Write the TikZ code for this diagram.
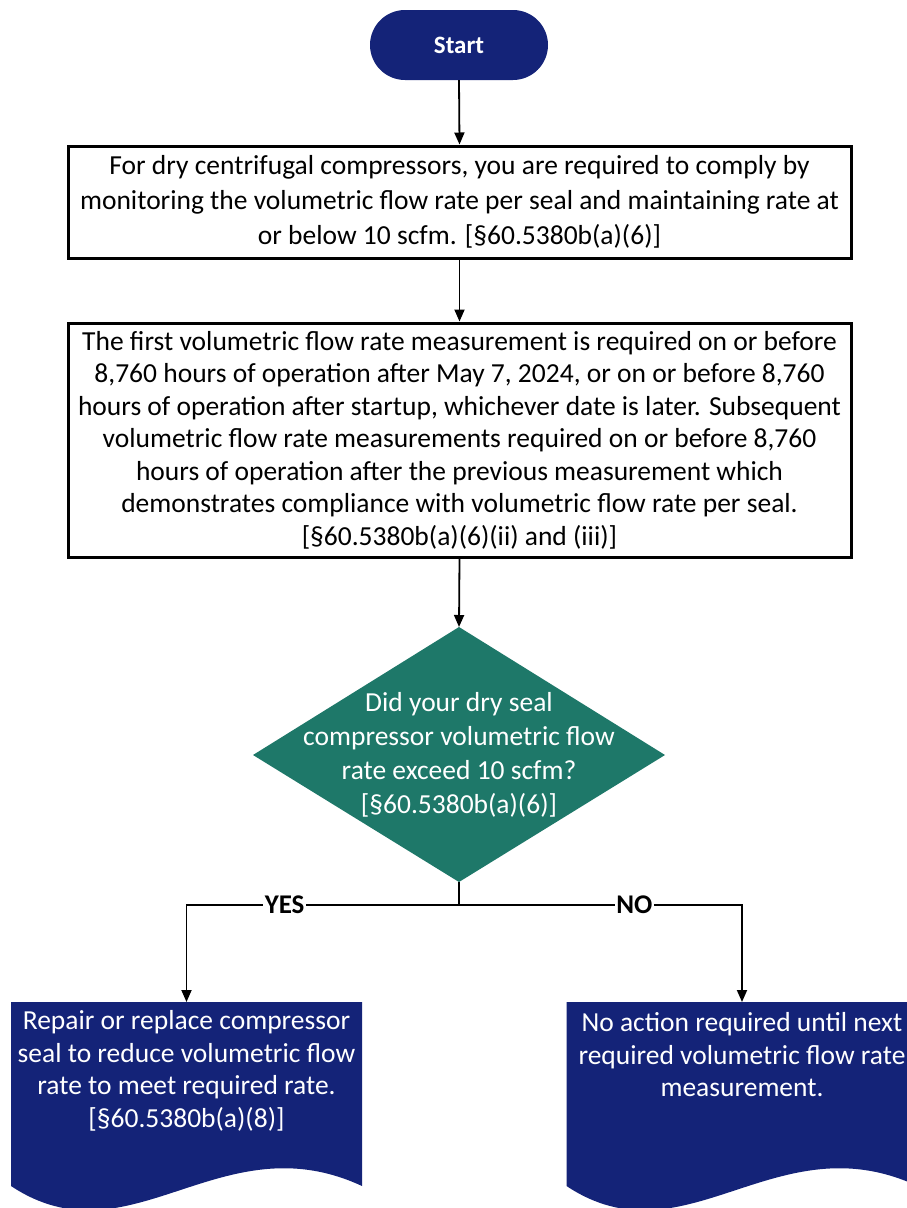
\documentclass[tikz,border=0pt]{standalone}
\usepackage{fontspec}
\setmainfont{Carlito}
\usetikzlibrary{arrows.meta,shapes.geometric}
\definecolor{navy}{RGB}{20,35,120}
\definecolor{teal}{RGB}{30,120,105}
\tikzset{
  every node/.style={font=\fontsize{27.5}{32.5}\selectfont},
  flow/.style={line width=1.8pt,-{Triangle[length=12pt,width=10pt]}},
  terminal/.style={fill=navy,text=white,rounded corners=35pt,minimum width=178pt,minimum height=70pt,font=\bfseries\fontsize{25}{28}\selectfont},
  process/.style={draw=black,line width=3pt,fill=white,align=center,minimum width=783pt,inner sep=0pt},
  decision/.style={text=white,align=center,inner sep=0pt},
  docbody/.style={fill=navy},
  doctext/.style={text=white,align=center,inner sep=0pt},
  branch/.style={fill=white,inner sep=1.5pt,font=\bfseries\fontsize{27}{30}\selectfont}
}
\begin{document}
\begin{tikzpicture}[x=1pt,y=-1pt]
\useasboundingbox (0,0) rectangle (907,1208);
\begin{scope}
\clip (0,0) rectangle (907,1208);

% start terminal
\node[terminal] (start) at (459,45) {Start};

% compliance requirement
\node[process,minimum height=112pt,font=\fontsize{27.5}{35}\selectfont] (req) at (459.5,202) {For dry centrifugal compressors, you are required to comply by\\monitoring the volumetric flow rate per seal and maintaining rate at\\or below 10 scfm. [§60.5380b(a)(6)]};

% measurement schedule
\node[process,minimum height=234pt] (sched) at (459.5,440) {The first volumetric flow rate measurement is required on or before\\8,760 hours of operation after May 7, 2024, or on or before 8,760\\hours of operation after startup, whichever date is later. Subsequent\\volumetric flow rate measurements required on or before 8,760\\hours of operation after the previous measurement which\\demonstrates compliance with volumetric flow rate per seal.\\{}[§60.5380b(a)(6)(ii) and (iii)]};

% decision diamond
\path[fill=teal] (459,627) -- (665,755) -- (459,882) -- (253,755) -- cycle;
\coordinate (qtop) at (459,627);
\coordinate (qbot) at (459,882);
\node[decision,font=\fontsize{27.5}{34}\selectfont] (q) at (459,755) {Did your dry seal\\compressor volumetric flow\\rate exceed 10 scfm?\\{}[§60.5380b(a)(6)]};

% document shapes with wavy bottoms
\path[docbody] (11,1002) -- (362,1002) -- (362,1186)
  .. controls (220,1120) and (130,1265) .. (11,1186) -- cycle;
\path[docbody] (566.5,1002) -- (917.5,1002) -- (917.5,1186)
  .. controls (775.5,1120) and (685.5,1265) .. (566.5,1186) -- cycle;
\coordinate (repairtop) at (186.5,1002);
\coordinate (noacttop) at (742,1002);
\node[doctext] (repair) at (186.5,1071) {Repair or replace compressor\\seal to reduce volumetric flow\\rate to meet required rate.\\{}[§60.5380b(a)(8)]};
\node[doctext] (noact) at (742,1055) {No action required until next\\required volumetric flow rate\\measurement.};

% connectors
\draw[flow] (start.south) -- (req.north);
\draw[flow] (req.south) -- (sched.north);
\draw[flow] (sched.south) -- (qtop);
\coordinate (split) at (459,905);
\draw[line width=1.8pt] (qbot) -- (split);
\draw[flow] (split) -| (repairtop) node[branch,pos=0.32] {YES};
\draw[flow] (split) -| (noacttop) node[branch,pos=0.31] {NO};
\end{scope}
\end{tikzpicture}
\end{document}
